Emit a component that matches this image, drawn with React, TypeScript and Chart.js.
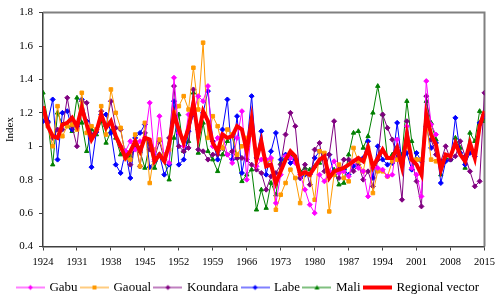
import React, { useEffect, useRef } from "react";
import { Chart, registerables } from "chart.js";

Chart.register(...registerables);

const N = null;

const years = [
  1924, 1925, 1926, 1927, 1928, 1929, 1930, 1931, 1932, 1933,
  1934, 1935, 1936, 1937, 1938, 1939, 1940, 1941, 1942, 1943,
  1944, 1945, 1946, 1947, 1948, 1949, 1950, 1951, 1952, 1953,
  1954, 1955, 1956, 1957, 1958, 1959, 1960, 1961, 1962, 1963,
  1964, 1965, 1966, 1967, 1968, 1969, 1970, 1971, 1972, 1973,
  1974, 1975, 1976, 1977, 1978, 1979, 1980, 1981, 1982, 1983,
  1984, 1985, 1986, 1987, 1988, 1989, 1990, 1991, 1992, 1993,
  1994, 1995, 1996, 1997, 1998, 1999, 2000, 2001, 2002, 2003,
  2004, 2005, 2006, 2007, 2008, 2009, 2010, 2011, 2012, 2013,
  2014, 2015,
];

const xTickYears = [1924, 1931, 1938, 1945, 1952, 1959, 1966, 1973, 1980, 1987, 1994, 2001, 2008, 2015];
const yTickValues = [0.4, 0.6, 0.8, 1, 1.2, 1.4, 1.6, 1.8];

const gabu = [
  N, N, N, N, N, N, N, N, N, N,
  N, N, N, N, N, N, 1.00, 0.97, 1.03, 0.98,
  1.03, 1.05, 1.26, 0.92, 1.18, 0.93, 0.90, 1.41, 1.08, 1.00,
  1.19, 1.20, 1.30, 1.27, 1.36, 1.00, 1.05, 1.07, 0.95, 0.90,
  1.05, 1.21, 0.80, 1.12, 0.88, 0.92, 0.92, 0.93, 0.66, 0.83,
  0.94, 0.93, 0.90, 0.83, 0.74, 0.65, 0.60, 0.83, 0.79, 0.85,
  0.91, 0.84, 0.85, 0.82, 0.91, 0.87, 0.85, 0.70, 0.87, 0.87,
  0.86, 0.82, 0.83, 1.04, 0.90, 1.12, 0.87, 0.83, 0.70, 1.39,
  1.13, 1.07, N, N, N, N, N, N, N, N,
  N, N,
];

const gaoual = [
  1.22, 1.12, 1.00, 1.24, 1.06, 1.12, 1.13, 1.10, 1.32, 1.08,
  1.12, 1.10, 1.24, 1.07, 1.34, 1.20, 1.11, 0.93, 0.92, 1.07,
  0.88, 1.14, 0.78, 0.98, 1.04, 0.95, 0.98, 1.20, 1.24, 1.30,
  1.22, 1.47, 1.22, 1.62, 1.05, 1.18, 1.12, 0.99, 1.10, 1.07,
  0.95, 1.00, 1.05, 1.07, 0.95, 0.99, 0.90, 0.92, 0.62, 0.71,
  0.78, 0.86, 0.81, 0.66, 0.84, 0.83, 0.68, 0.97, 0.96, 0.61,
  0.83, 0.89, 0.81, 0.79, 0.99, 0.91, 0.85, 0.99, 0.72, 0.85,
  0.85, 0.82, 0.91, 0.92, 0.91, 1.00, 0.92, 0.92, 0.92, 1.15,
  0.92, 0.91, N, N, N, N, N, N, N, N,
  N, N,
];

const koundara = [
  1.22, 1.14, 1.05, 1.10, 1.10, 1.29, 1.12, 1.00, 1.27, 1.26,
  1.07, 1.10, 1.21, 1.12, 1.27, 1.11, 1.10, 0.95, 0.89, 1.03,
  0.88, 1.08, 0.98, 0.93, 1.03, 0.92, 1.05, 1.36, 1.00, 0.97,
  0.99, 1.34, 0.98, 0.97, 0.92, 0.95, 0.95, 0.99, 0.95, 0.97,
  0.93, 0.93, 0.92, 0.89, 0.86, 0.84, 0.74, 0.82, 0.84, 0.89,
  1.07, 1.20, 1.12, 0.81, 0.89, 0.77, 0.98, 1.02, 0.85, 0.95,
  1.15, 0.81, 0.92, 0.92, 0.85, 0.89, 0.80, 0.85, 0.76, 0.92,
  1.19, 1.11, 1.04, 0.93, 0.68, 1.15, 0.92, 0.79, 0.64, 1.30,
  1.04, 0.95, 0.91, 1.00, 0.92, 0.94, 1.03, 0.94, 0.85, 0.76,
  0.79, 1.32,
];

const labe = [
  1.15, 1.15, 1.28, 0.92, 1.20, 1.21, 1.10, 1.12, 1.28, 1.15,
  0.875, 1.085, 1.19, 1.19, 1.08, 0.89, 0.84, 0.97, 0.81, 1.05,
  1.08, 1.13, 0.875, 0.91, 0.95, 0.83, 0.89, 1.27, 0.89, 0.92,
  1.09, 1.19, 1.10, 1.20, 1.33, 1.03, 0.92, 1.10, 1.28, 0.92,
  1.18, 0.84, 1.00, 1.30, 0.93, 1.09, 0.83, 0.97, 1.08, 0.92,
  0.95, 0.90, 0.92, 0.81, 0.83, 0.83, 0.93, 0.97, 0.95, 0.95,
  0.83, 0.86, 0.86, 0.83, 0.88, 0.91, 0.93, 1.03, 0.81, 1.00,
  0.92, 0.89, 0.90, 1.14, 0.90, 0.96, 0.86, 0.96, 0.91, 1.12,
  0.99, 1.02, 0.78, 0.91, 0.92, 1.17, 0.96, 0.89, 0.96, 0.94,
  1.14, 1.18,
];

const mali = [
  1.32, 1.15, 0.89, 1.20, 1.13, 1.12, 1.09, 1.29, 1.14, 0.97,
  1.10, 1.07, 1.15, 1.02, 1.09, 1.05, 0.95, 0.94, 0.94, 0.99,
  0.97, 0.87, 1.02, 0.87, 0.95, 0.92, 0.80, 1.05, 1.19, 0.97,
  1.03, 1.32, 0.96, 1.14, 0.97, 0.92, 0.85, 0.95, 1.03, 1.06,
  0.93, 0.79, 0.83, 0.86, 0.62, 0.74, 0.63, 0.78, 0.71, 0.90,
  0.93, 0.95, 0.92, 0.85, 0.87, 0.86, 0.88, 0.90, 0.93, 0.82,
  0.86, 0.77, 0.78, 0.95, 1.08, 1.09, 0.99, 1.06, 1.20, 1.36,
  1.19, 0.93, 0.95, 1.00, 0.95, 1.27, 1.03, 0.92, 0.92, 1.27,
  1.14, 1.04, 0.83, 0.93, 0.92, 1.05, 0.99, 0.87, 1.08, 1.03,
  1.21, 1.15,
];

const regional = [
  1.24, 1.12, 1.06, 1.05, 1.13, 1.14, 1.17, 1.12, 1.23, 1.13,
  1.04, 1.09, 1.19, 1.11, 1.15, 1.06, 1.00, 0.93, 0.97, 1.03,
  0.97, 1.05, 1.04, 0.91, 0.95, 0.91, 1.01, 1.19, 1.10, 1.02,
  1.11, 1.26, 1.06, 1.21, 1.15, 1.02, 0.97, 1.07, 1.05, 1.06,
  1.12, 1.10, 0.97, 1.16, 0.92, 1.03, 0.88, 0.89, 0.78, 0.85,
  0.92, 0.97, 0.94, 0.83, 0.845, 0.83, 0.875, 0.92, 0.94, 0.81,
  0.85, 0.86, 0.87, 0.89, 0.91, 0.93, 0.91, 0.99, 0.875, 0.93,
  0.98, 0.93, 0.93, 0.99, 0.875, 1.07, 0.92, 0.89, 0.83, 1.19,
  1.07, 1.01, 0.86, 0.95, 0.94, 1.02, 0.95, 0.91, 1.02, 0.93,
  1.12, 1.21,
];

const seriesDefs = [
  { label: "Gabu", data: gabu, color: "#FF00FF", marker: "rectRot" },
  { label: "Gaoual", data: gaoual, color: "#FF9900", marker: "rect" },
  { label: "Koundara", data: koundara, color: "#800080", marker: "rectRot" },
  { label: "Labe", data: labe, color: "#0000FF", marker: "rectRot" },
  { label: "Mali", data: mali, color: "#008000", marker: "triangle" },
  { label: "Regional vector", data: regional, color: "#FF0000", marker: "none" },
];

const SERIF = "'Liberation Serif', 'Times New Roman', serif";
const LEGEND_SHIFT_X = 6;

function makeIcon(color: string, marker: string): HTMLCanvasElement {
  const c = document.createElement("canvas");
  c.width = 29;
  c.height = 10;
  const ctx = c.getContext("2d")!;
  ctx.strokeStyle = color;
  ctx.fillStyle = color;
  ctx.lineWidth = marker === "none" ? 4 : 1;
  ctx.beginPath();
  ctx.moveTo(0, 5);
  ctx.lineTo(29, 5);
  ctx.stroke();
  const x = 14.5, y = 5, r = 2.5;
  ctx.beginPath();
  if (marker === "rectRot") {
    ctx.moveTo(x, y - r); ctx.lineTo(x + r, y); ctx.lineTo(x, y + r); ctx.lineTo(x - r, y); ctx.closePath(); ctx.fill();
  } else if (marker === "rect") {
    ctx.rect(x - 2, y - 2, 4, 4); ctx.fill();
  } else if (marker === "triangle") {
    ctx.moveTo(x, y - r); ctx.lineTo(x + r, y + r * 0.8); ctx.lineTo(x - r, y + r * 0.8); ctx.closePath(); ctx.fill();
  }
  return c;
}

const framePlugin = {
  id: "frame",
  afterInit(chart: any) {
    const lg = chart.legend;
    if (lg && !lg.__shifted) {
      const orig = lg.draw.bind(lg);
      lg.draw = (...args: any[]) => {
        const ctx = chart.ctx;
        ctx.save();
        ctx.translate(LEGEND_SHIFT_X, 0);
        orig(...args);
        ctx.restore();
      };
      lg.__shifted = true;
    }
  },
  beforeDatasetsDraw(chart: any) {
    const { ctx, chartArea: a } = chart;
    ctx.save();
    ctx.strokeStyle = "#808080";
    ctx.lineWidth = 2;
    ctx.beginPath();
    ctx.moveTo(a.left, a.top);
    ctx.lineTo(a.right, a.top);
    ctx.lineTo(a.right, a.bottom);
    ctx.stroke();
    ctx.restore();
  },
};

export default function App() {
  const ref = useRef<HTMLCanvasElement>(null);
  useEffect(() => {
    const canvas = ref.current!;
    const icons = seriesDefs.map((s) => makeIcon(s.color, s.marker));
    const chart = new Chart(canvas, {
      type: "line",
      data: {
        labels: years,
        datasets: seriesDefs.map((s) => {
          const isReg = s.marker === "none";
          return {
            label: s.label,
            data: s.data,
            borderColor: s.color,
            backgroundColor: s.color,
            borderWidth: isReg ? 4 : 1,
            pointRadius: isReg ? 0 : 2.5,
            pointStyle: isReg ? false : s.marker,
            pointBackgroundColor: s.color,
            pointBorderColor: s.color,
            pointBorderWidth: 1,
            tension: 0,
            spanGaps: false,
            order: isReg ? 0 : 1,
          } as any;
        }),
      },
      options: {
        responsive: false,
        animation: false,
        devicePixelRatio: 1,
        layout: { padding: { top: 9, right: 15, bottom: -9, left: 0 } },
        plugins: {
          tooltip: { enabled: false },
          legend: {
            position: "bottom",
            labels: {
              usePointStyle: true,
              pointStyleWidth: 25,
              padding: 4.4,
              color: "#000",
              font: { family: SERIF, size: 13 },
              generateLabels: (ch: any) =>
                ch.data.datasets.map((ds: any, i: number) => ({
                  text: ds.label,
                  pointStyle: icons[i],
                  datasetIndex: i,
                  hidden: false,
                  fillStyle: ds.borderColor,
                  strokeStyle: ds.borderColor,
                  lineWidth: 0,
                  fontColor: "#000",
                })),
            },
          },
        },
        scales: {
          x: {
            type: "linear",
            min: 1924,
            max: 2015,
            afterBuildTicks: (s: any) => {
              s.ticks = xTickYears.map((v) => ({ value: v }));
            },
            afterFit: (s: any) => {
              s.height = 30.1;
            },
            ticks: {
              autoSkip: false,
              maxRotation: 0,
              padding: 5,
              color: "#000",
              font: { family: SERIF, size: 10.5 },
              callback: (v: any) => String(v),
            },
            grid: { drawOnChartArea: false, drawTicks: true, tickLength: 4, color: "#404040" },
            border: { color: "#404040", width: 1.5 },
          },
          y: {
            type: "linear",
            min: 0.4,
            max: 1.8,
            afterBuildTicks: (s: any) => {
              s.ticks = yTickValues.map((v) => ({ value: v }));
            },
            afterFit: (s: any) => {
              s.width = 43;
            },
            ticks: {
              padding: 6,
              color: "#000",
              font: { family: SERIF, size: 11 },
              callback: (v: any) => String(v),
            },
            title: {
              display: true,
              text: "Index",
              color: "#000",
              font: { family: SERIF, size: 11 },
              padding: { top: 4, bottom: 4 },
            },
            grid: { drawOnChartArea: false, drawTicks: true, tickLength: 4, color: "#404040" },
            border: { color: "#404040", width: 1.5 },
          },
        },
      } as any,
      plugins: [framePlugin],
    });
    return () => chart.destroy();
  }, []);
  return (
    <div style={{ position: "absolute", left: 0, top: 0, width: 500, height: 295 }}>
      <canvas ref={ref} width={500} height={295} style={{ display: "block", width: 500, height: 295 }} />
    </div>
  );
}
